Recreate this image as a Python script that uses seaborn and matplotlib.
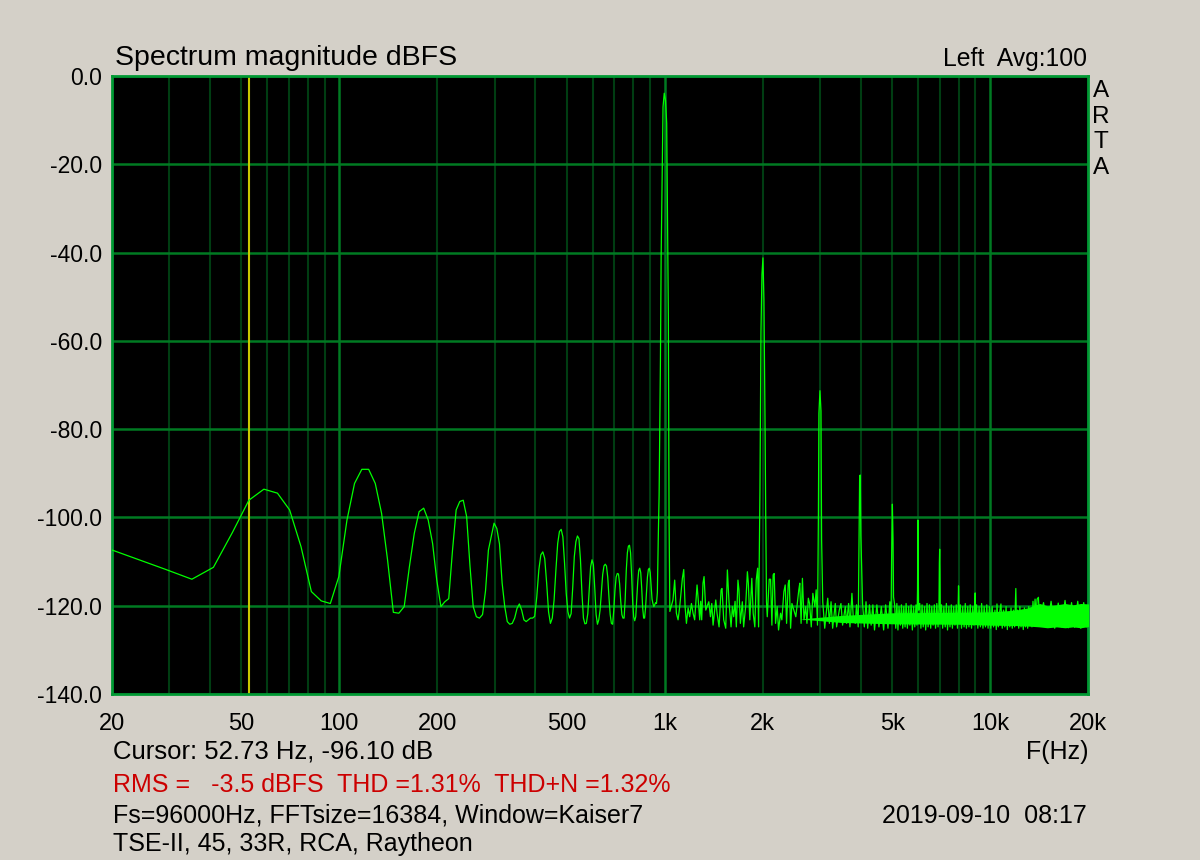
import numpy as np
import pandas as pd
import seaborn as sns
import matplotlib
matplotlib.use("Agg")
import matplotlib.pyplot as plt

# spectrum, (Hz, dBFS)
low_band = [
    (17.6, -105.9), (23.4, -109.2), (29.3, -111.8), (35.2, -114.0), (41.0, -111.3),
    (46.9, -103.4), (52.7, -96.1), (58.6, -93.6), (64.5, -94.5), (70.3, -98.3),
    (76.2, -106.6), (82.0, -116.8), (87.9, -118.9), (93.8, -119.5), (99.6, -113.4),
    (105.5, -100.6), (111.3, -92.3), (117.2, -89.1), (123.0, -89.1), (128.9, -92.3),
    (134.8, -99.1), (140.6, -109.6), (146.5, -121.5), (152.3, -121.7), (158.2, -120.2),
    (164.1, -111.2), (169.9, -103.6), (175.8, -98.7), (181.6, -97.9), (187.5, -100.6),
    (193.4, -105.9), (199.2, -114.2), (205.1, -120.2), (210.9, -119.1), (216.8, -118.4),
    (222.7, -107.4), (228.5, -98.3), (234.4, -96.4), (240.2, -96.1), (246.1, -99.8),
    (252.0, -111.0), (257.8, -120.2), (263.7, -122.5), (269.5, -122.8), (275.4, -122.0),
    (281.3, -116.6), (287.1, -107.4), (293.0, -104.3), (298.8, -101.3), (304.7, -102.5),
    (310.5, -106.0), (316.4, -114.9), (322.3, -120.2), (328.1, -123.6), (334.0, -124.2),
    (339.8, -124.0), (345.7, -122.8), (351.6, -120.6), (357.4, -119.6), (363.3, -121.0),
    (369.1, -123.2), (375.0, -123.6), (380.9, -123.2), (386.7, -122.8), (392.6, -122.8),
    (398.4, -122.4), (404.3, -118.0), (410.2, -111.9), (416.0, -108.5), (421.9, -107.8),
    (427.7, -109.3), (433.6, -114.9), (439.5, -121.4), (445.3, -124.0), (451.2, -122.8),
    (457.0, -118.7), (462.9, -111.9), (468.8, -105.9), (474.6, -103.2), (480.5, -102.7),
    (486.3, -104.4), (492.2, -110.4), (498.0, -117.2), (503.9, -121.4), (509.8, -122.8),
    (515.6, -121.8), (521.5, -115.8), (527.3, -108.9), (533.2, -105.5), (539.1, -104.2),
    (544.9, -104.8), (550.8, -109.6), (556.6, -117.2), (562.5, -122.8), (568.4, -124.1),
    (574.2, -124.0), (580.1, -121.8), (585.9, -116.5), (591.8, -111.2), (597.7, -109.6),
    (603.5, -110.7), (609.4, -116.0), (615.2, -122.0), (621.1, -124.2), (627.0, -123.2),
    (632.8, -121.0), (638.7, -117.0), (644.5, -113.0), (650.4, -111.0), (656.3, -110.6),
    (662.1, -111.0), (668.0, -113.5), (673.8, -118.0), (679.7, -122.0), (685.5, -124.0),
    (691.4, -124.2), (697.3, -121.0), (703.1, -116.5), (709.0, -113.5), (714.8, -112.7),
    (720.7, -112.8), (726.6, -115.0), (732.4, -119.0), (738.3, -122.0), (744.1, -122.8),
    (750.0, -122.8), (755.9, -118.5), (761.7, -112.0), (767.6, -108.0), (773.4, -106.5),
    (779.3, -106.3), (785.2, -108.0), (791.0, -113.0), (796.9, -119.0), (802.7, -122.5),
    (808.6, -123.4), (814.5, -122.5), (820.3, -118.5), (826.2, -114.5), (832.0, -112.0),
    (837.9, -111.5), (843.8, -112.5), (849.6, -116.0), (855.5, -120.5), (861.3, -122.8),
    (867.2, -122.8), (873.0, -120.5), (878.9, -117.0), (884.8, -113.5), (890.6, -111.8),
    (896.5, -111.5), (902.3, -112.5), (908.2, -115.5), (914.1, -118.5), (919.9, -119.5),
    (925.8, -120.2), (931.6, -119.8), (937.5, -119.3), (943.4, -119.5), (949.2, -117.0),
    (955.1, -105.0), (961.0, -95.0),
]

fundamental = [
    (970, -64.6), (975, -40.8), (981, -24.5), (988, -7.0), (996.5, -3.9),
    (1005.7, -5.6), (1014, -10.7), (1020, -32.0), (1026, -54.5), (1031, -100.0),
]

harmonics = [
    (1952, -110.0), (1962, -93.8), (1976, -57.9), (1990, -45.0), (2004, -41.2),
    (2018, -50.7), (2033, -77.2), (2044, -100.0), (2055, -119.1),
    (2967, -100.0), (2978, -76.4), (3000, -71.3), (3022, -75.9), (3035, -105.0),
    (3955, -105.0), (3973, -90.6), (3990, -90.4), (4007, -104.0),
    (4980, -110.0), (5008, -97.0), (5032, -105.0), (5050, -118.0),
    (5985, -116.4), (6000, -100.6), (6015, -112.0), (6030, -121.0),
    (6985, -110.4), (7000, -107.2), (7015, -112.0), (7030, -122.0),
    (7990, -117.2), (8000, -115.5), (8015, -118.0), (8035, -124.0),
    (9000, -117.1), (9020, -123.0),
]

noise_1k_2k = [
    (1037, -121.3), (1060, -118.7), (1073, -114.2), (1086, -121.7), (1099, -123.2),
    (1112, -120.2), (1133, -113.8), (1144, -111.8), (1155, -120.2), (1166, -124.0),
    (1180, -120.5), (1193, -122.5), (1208, -119.5), (1222, -121.7), (1236, -123.2),
    (1257, -115.3), (1269, -119.1), (1281, -123.2), (1290, -119.0), (1299, -123.2),
    (1311, -114.9), (1321, -113.4), (1337, -121.0), (1349, -120.2), (1366, -119.1),
    (1382, -122.5), (1395, -119.5), (1408, -124.4), (1435, -118.7), (1448, -121.7),
    (1469, -124.8), (1490, -116.4), (1500, -116.1), (1518, -123.2), (1540, -125.1),
    (1558, -111.9), (1576, -119.1), (1599, -124.8), (1614, -120.2), (1629, -122.5),
    (1645, -119.0), (1660, -124.8), (1679, -114.2), (1691, -116.4), (1708, -124.0),
    (1732, -119.1), (1748, -124.8), (1773, -120.2), (1795, -112.3), (1807, -114.9),
    (1826, -123.2), (1852, -113.8), (1870, -121.7), (1892, -124.8), (1911, -114.2),
    (1930, -111.5), (1943, -124.8),
]

noise_2k_5k = [
    (2066, -122.5), (2095, -114.0), (2115, -114.0), (2135, -124.4), (2154, -113.0),
    (2170, -112.7), (2191, -124.0), (2216, -120.2), (2238, -125.5), (2270, -121.7),
    (2291, -123.2), (2324, -116.8), (2346, -115.3), (2369, -124.0), (2397, -114.9),
    (2414, -114.2), (2437, -125.1), (2460, -119.5), (2494, -121.0), (2529, -122.5),
    (2553, -119.8), (2583, -116.4), (2601, -114.9), (2625, -124.0), (2650, -113.8),
    (2680, -123.2), (2712, -120.2), (2736, -124.0), (2763, -118.3), (2788, -119.5),
    (2821, -124.8), (2853, -117.2), (2894, -120.2), (2921, -116.4), (2948, -124.4),
    (3060, -119.1), (3103, -125.1), (3170, -118.3), (3207, -124.0), (3245, -119.1),
    (3282, -125.1), (3344, -119.5), (3375, -124.8), (3440, -121.0), (3481, -119.5),
    (3521, -124.4), (3590, -120.2), (3622, -124.0), (3675, -119.5), (3710, -124.8),
    (3762, -117.2), (3797, -122.5), (3852, -124.0), (3886, -119.8), (3933, -124.8),
    (4056, -119.5), (4107, -124.8), (4156, -119.1), (4206, -125.1), (4258, -119.8),
    (4310, -124.4), (4362, -119.8), (4414, -125.5), (4488, -119.8), (4554, -124.8),
    (4632, -120.2), (4708, -125.5), (4776, -119.8), (4855, -125.1), (4920, -119.1),
    (4960, -124.0),
]

noise_5k_10k = [
    (5090, -119.8), (5130, -125.1), (5170, -119.5), (5210, -125.5), (5250, -120.2),
    (5300, -124.4), (5340, -119.8), (5390, -125.1), (5430, -120.2), (5480, -124.8),
    (5520, -119.5), (5570, -125.1), (5620, -120.2), (5670, -124.4), (5720, -119.8),
    (5770, -125.5), (5820, -120.2), (5870, -124.8), (5920, -119.8), (5960, -124.4),
    (6080, -119.5), (6130, -125.1), (6180, -119.8), (6230, -124.8), (6290, -120.2),
    (6340, -125.5), (6400, -119.5), (6450, -124.8), (6510, -119.8), (6570, -125.1),
    (6620, -120.2), (6680, -124.4), (6740, -119.8), (6800, -125.1), (6860, -119.5),
    (6920, -124.8), (6965, -120.5),
    (7090, -119.8), (7150, -125.1), (7210, -120.2), (7280, -124.8), (7340, -119.5),
    (7400, -125.5), (7470, -120.2), (7530, -124.8), (7600, -119.8), (7660, -125.1),
    (7730, -120.2), (7800, -124.4), (7870, -119.8), (7940, -125.1), (7975, -121.0),
    (8100, -119.8), (8170, -125.1), (8240, -120.2), (8320, -124.8), (8390, -119.5),
    (8460, -125.1), (8540, -120.2), (8610, -124.8), (8690, -119.8), (8770, -125.1),
    (8850, -120.2), (8920, -124.4), (8975, -120.0),
    (9090, -119.8), (9170, -125.1), (9250, -120.2), (9340, -124.8), (9420, -119.5),
    (9510, -125.1), (9590, -120.2), (9680, -124.8), (9770, -119.8), (9860, -125.1),
    (9950, -120.2),
]

noise_10k_20k = [
    (10050, -125.1), (10150, -120.2), (10250, -124.8), (10350, -121.0), (10450, -125.4),
    (10500, -119.6), (10600, -124.8), (10700, -121.5), (10800, -119.6), (10900, -125.1),
    (11000, -121.0), (11100, -124.8), (11200, -120.2), (11300, -125.4), (11400, -121.5),
    (11500, -124.8), (11600, -120.5), (11700, -125.1), (11800, -121.0), (11900, -124.8),
    (12000, -116.1), (12060, -124.4), (12150, -121.0), (12250, -125.1), (12350, -120.2),
    (12450, -124.8), (12550, -121.0), (12650, -125.4), (12750, -120.5), (12850, -124.8),
    (12950, -121.0), (13050, -125.1), (13150, -120.2), (13250, -124.4), (13350, -121.5),
    (13450, -124.8), (13550, -119.0), (13650, -123.0), (13750, -118.5), (13850, -122.5),
    (13950, -118.5), (14080, -118.1), (14200, -123.5), (14600, -119.3), (15000, -124.9),
    (15400, -119.0), (15800, -125.1), (16200, -119.4), (16600, -124.8), (17000, -118.8),
    (17400, -125.0), (17800, -119.3), (18200, -124.9), (18600, -119.0), (19000, -125.1),
    (19400, -119.3), (19800, -124.8), (20200, -119.5),
]

# dense floor reads as a band: thin core that widens towards 20 kHz
band_hz = [2600, 3500, 5000, 8000, 10000, 12000, 13000, 14200, 15000, 16000, 17000, 18000, 19000, 20200]
band_hi = [-123.0, -122.2, -121.6, -121.5, -121.4, -121.0, -120.5, -119.5, -120.0, -119.8, -119.5, -119.8, -119.5, -119.6]
band_lo = [-123.0, -123.8, -124.1, -124.2, -124.4, -124.5, -124.6, -124.8, -125.0, -124.8, -125.0, -124.8, -125.0, -124.7]

tick_hz = [20, 50, 100, 200, 500, 1000, 2000, 5000, 10000, 20000]
tick_labels = ["20", "50", "100", "200", "500", "1k", "2k", "5k", "10k", "20k"]
db_ticks = [0, -20, -40, -60, -80, -100, -120, -140]
cursor_hz = 52.73

BG = "#d4d0c8"
TRACE = "#00ff00"
GRID_MAJOR = "#007a22"
GRID_MINOR = "#003d12"
FRAME = "#009933"

pts = low_band + fundamental + noise_1k_2k + noise_2k_5k + noise_5k_10k + noise_10k_20k + harmonics
df = pd.DataFrame(pts, columns=["Hz", "dB"]).sort_values("Hz")

plt.rcParams["font.family"] = ["Liberation Sans", "DejaVu Sans"]

fig = plt.figure(figsize=(12, 8.6), dpi=100, facecolor=BG)
ax = fig.add_axes([112 / 1200, 1 - 694 / 860, 976 / 1200, 618 / 860])
ax.set_facecolor("black")
ax.set_xscale("log")

# grid: decades bright, 2..9 dark
for k in (1, 2, 3):
    for m in range(2, 10):
        f = m * 10 ** k
        if 20 < f < 20000:
            ax.axvline(f, color=GRID_MINOR, lw=1.5, zorder=1)
for f in (100, 1000, 10000):
    ax.axvline(f, color=GRID_MAJOR, lw=1.8, zorder=1)
for v in db_ticks[1:-1]:
    ax.axhline(v, color=GRID_MAJOR, lw=1.8, zorder=1)

ax.axvline(cursor_hz, color="#c8c800", lw=1.5, zorder=2)

ax.fill_between(band_hz, band_lo, band_hi, color=TRACE, lw=0, zorder=3)
sns.lineplot(data=df, x="Hz", y="dB", sort=False, estimator=None,
             color=TRACE, lw=0.9, ax=ax, zorder=4)

ax.set_xlim(20, 20000)
ax.set_ylim(-140, 0)
ax.set_xlabel("")
ax.set_ylabel("")
ax.set_xticks(tick_hz, tick_labels)
ax.xaxis.set_minor_locator(matplotlib.ticker.NullLocator())
ax.set_yticks(db_ticks, [f"{v:.1f}" for v in db_ticks])
ax.tick_params(axis="x", length=0, labelsize=17, pad=14)
ax.tick_params(axis="y", length=0, labelsize=16.5, pad=7)
for s in ax.spines.values():
    s.set_color(FRAME)
    s.set_linewidth(2)

W, H = 1200, 860
def label(x, y, s, **kw):
    fig.text(x / W, 1 - y / H, s, va="baseline", **kw)

label(115, 65, "Spectrum magnitude dBFS", fontsize=20.5)
label(1087, 66, "Left  Avg:100", fontsize=17.8, ha="right")
fig.text(1101 / W, 1 - 80 / H, "A\nR\nT\nA", fontsize=17.5, ha="center", va="top",
         linespacing=1.22)
label(1088, 759, "F(Hz)", fontsize=18, ha="right")
label(113, 759, "Cursor: 52.73 Hz, -96.10 dB", fontsize=18.5)
label(113, 792, "RMS =   -3.5 dBFS  THD =1.31%  THD+N =1.32%", fontsize=18, color="#cc0000")
label(113, 823, "Fs=96000Hz, FFTsize=16384, Window=Kaiser7", fontsize=18)
label(1087, 823, "2019-09-10  08:17", fontsize=18, ha="right")
label(113, 851, "TSE-II, 45, 33R, RCA, Raytheon", fontsize=18)

fig.savefig("out.png", dpi=100, facecolor=BG)
